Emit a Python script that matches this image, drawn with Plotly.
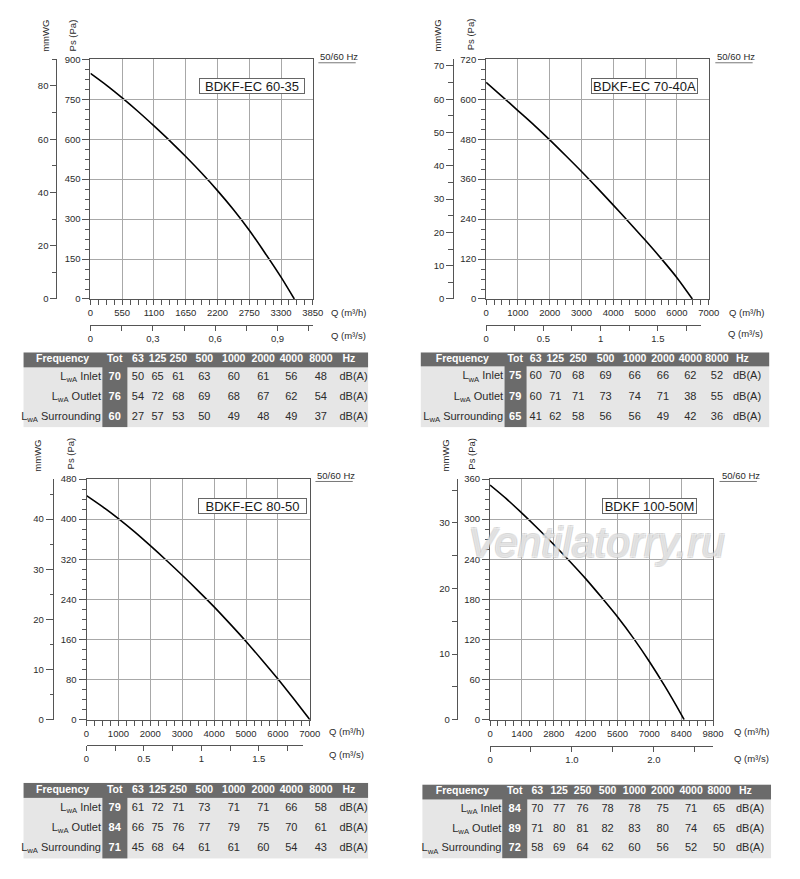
import plotly.graph_objects as go

W, H = 800, 879
FONT = "Liberation Sans, Arial, Helvetica, sans-serif"
TXT = "#2b2b2b"
GRID = "#a8a8a8"
FRAME = "#555555"
DARK = "#6b6b6b"
LIGHT = "#e6e6e6"

# ---------------- data ----------------
model_names = ["BDKF-EC 60-35", "BDKF-EC 70-40A", "BDKF-EC 80-50", "BDKF 100-50M"]

q_60_35 = [0, 275, 550, 825, 1100, 1375, 1650, 1925, 2200, 2475, 2750, 3025, 3300, 3530]
ps_60_35 = [847, 803, 755, 704, 650, 594, 535, 473, 407, 336, 258, 172, 82, 0]

q_70_40 = [0, 500, 1000, 1500, 2000, 2500, 3000, 3500, 4000, 4500, 5000, 5500, 6000, 6485]
ps_70_40 = [651, 609, 566, 523, 478, 431, 383, 333, 282, 230, 177, 122, 64, 0]

q_80_50 = [0, 500, 1000, 1500, 2000, 2500, 3000, 3500, 4000, 4500, 5000, 5500, 6000, 6500, 7000]
ps_80_50 = [447, 425, 401, 375, 347, 318, 288, 257, 225, 191, 156, 119, 81, 41, 0]

q_100_50 = [0, 700, 1400, 2100, 2800, 3500, 4200, 4900, 5600, 6300, 7000, 7700, 8400, 8530]
ps_100_50 = [351, 331, 309, 286, 262, 237, 211, 183, 154, 122, 87, 49, 8, 0]

freq_labels = ["63", "125", "250", "500", "1000", "2000", "4000", "8000"]
row_names = ["Inlet", "Outlet", "Surrounding"]

tot_60_35 = [70, 76, 60]
inlet_60_35 = [50, 65, 61, 63, 60, 61, 56, 48]
outlet_60_35 = [54, 72, 68, 69, 68, 67, 62, 54]
surr_60_35 = [27, 57, 53, 50, 49, 48, 49, 37]

tot_70_40 = [75, 79, 65]
inlet_70_40 = [60, 70, 68, 69, 66, 66, 62, 52]
outlet_70_40 = [60, 71, 71, 73, 74, 71, 38, 55]
surr_70_40 = [41, 62, 58, 56, 56, 49, 42, 36]

tot_80_50 = [79, 84, 71]
inlet_80_50 = [61, 72, 71, 73, 71, 71, 66, 58]
outlet_80_50 = [66, 75, 76, 77, 79, 75, 70, 61]
surr_80_50 = [45, 68, 64, 61, 61, 60, 54, 43]

tot_100_50 = [84, 89, 72]
inlet_100_50 = [70, 77, 76, 78, 78, 75, 71, 65]
outlet_100_50 = [71, 80, 81, 82, 83, 80, 74, 65]
surr_100_50 = [58, 69, 64, 62, 60, 56, 52, 50]

sec_vals_1 = [0, 0.3, 0.6, 0.9]
sec_text_1 = ["0", "0,3", "0,6", "0,9"]
sec_vals_2 = [0, 0.5, 1, 1.5]
sec_text_2 = ["0", "0.5", "1", "1.5"]
sec_vals_4 = [0, 1, 2]
sec_text_4 = ["0", "1.0", "2.0"]

# ---------------- geometry (pixels) ----------------
panels = [
    dict(q=q_60_35, ps=ps_60_35, name=model_names[0], tot=tot_60_35,
         bands=[inlet_60_35, outlet_60_35, surr_60_35], sv=sec_vals_1, st=sec_text_1, sminor=0.15,
         px=(89, 315.3), py=(54, 296.7), qmax=3850, qdt=550, psmax=900, psdt=150,
         mm_x=54.3, mm_conv=10, mm_dt=20, mm_minor=10, mm_len=6, mm_mlen=4,
         sec_y=322.7, sec_end=315.3,
         lab_mm=(43, 30), lab_ps=(71, 30), hz=(321, 51), qh=(332, 310), qs=(332, 334),
         box=(253, 81, 106), tx=(20.7, 371.7), ty=350.7, hh=15.3, rh=20.2,
         colw=[80, 26, 21.3, 18.7, 23.6, 29.2, 30.8, 29.2, 28, 32, 32.2]),
    dict(q=q_70_40, ps=ps_70_40, name=model_names[1], tot=tot_70_40,
         bands=[inlet_70_40, outlet_70_40, surr_70_40], sv=sec_vals_2, st=sec_text_2, sminor=0.25,
         px=(491.7, 718.3), py=(54, 296.7), qmax=7000, qdt=1000, psmax=720, psdt=120,
         mm_x=458.3, mm_conv=10, mm_dt=10, mm_minor=5, mm_len=7, mm_mlen=5,
         sec_y=322.7, sec_end=710,
         lab_mm=(442.7, 30), lab_ps=(476, 29), hz=(725, 51), qh=(736.7, 310), qs=(736, 332),
         box=(652.5, 81, 107), tx=(425, 780), ty=350.7, hh=14.5, rh=20.5,
         colw=[85, 22.7, 19, 20.8, 25.8, 30, 29.2, 28.3, 27.5, 26.7, 40]),
    dict(q=q_80_50, ps=ps_80_50, name=model_names[2], tot=tot_80_50,
         bands=[inlet_80_50, outlet_80_50, surr_80_50], sv=sec_vals_2, st=sec_text_2, sminor=0.25,
         px=(85, 312.3), py=(479, 722.7), qmax=7000, qdt=1000, psmax=480, psdt=80,
         mm_x=50.7, mm_conv=10, mm_dt=10, mm_minor=5, mm_len=7, mm_mlen=3,
         sec_y=748.3, sec_end=305,
         lab_mm=(35, 455), lab_ps=(68.3, 453), hz=(318, 475), qh=(330, 735), qs=(330, 758.3),
         box=(253.5, 506, 109), tx=(20.7, 371.7), ty=786.7, hh=15, rh=20.5,
         colw=[80, 26, 21.3, 18.7, 23.6, 29.2, 30.8, 29.2, 28, 32, 32.2]),
    dict(q=q_100_50, ps=ps_100_50, name=model_names[3], tot=tot_100_50,
         bands=[inlet_100_50, outlet_100_50, surr_100_50], sv=sec_vals_4, st=sec_text_4, sminor=0.5,
         px=(495.7, 722.7), py=(479, 722.7), qmax=9800, qdt=1400, psmax=360, psdt=60,
         mm_x=461.7, mm_conv=9.81, mm_dt=10, mm_minor=5, mm_len=5, mm_mlen=5,
         sec_y=749.3, sec_end=722.7,
         lab_mm=(450, 455), lab_ps=(476.7, 453), hz=(729.3, 475), qh=(741.7, 735), qs=(741.7, 761.7),
         box=(658.5, 506, 95), tx=(426.7, 781.7), ty=788.3, hh=15, rh=20,
         colw=[81.6, 25, 21.2, 23.2, 24.5, 26.3, 28.5, 29, 28.7, 28.3, 38.7]),
]


def fx(x):
    return x / W


def fy(y):
    return 1 - y / H


def aid(prefix, n):
    return prefix + ("" if n == 1 else str(n))


tickfont = dict(family=FONT, size=9.5, color=TXT)
fig = go.Figure()
annotations = []
shapes = []
layout = {}

for i, p in enumerate(panels):
    xm, xs, yp, ym = 2 * i + 1, 2 * i + 2, 2 * i + 1, 2 * i + 2
    xm_r, xs_r, yp_r, ym_r = aid("x", xm), aid("x", xs), aid("y", yp), aid("y", ym)

    fig.add_trace(go.Scatter(x=p["q"], y=p["ps"], mode="lines",
                             line=dict(color="black", width=1.6, shape="spline", smoothing=0.8),
                             xaxis=xm_r, yaxis=yp_r, hoverinfo="skip", showlegend=False))
    fig.add_trace(go.Scatter(x=[], y=[], xaxis=xm_r, yaxis=ym_r, hoverinfo="skip", showlegend=False))
    fig.add_trace(go.Scatter(x=[], y=[], xaxis=xs_r, yaxis=yp_r, hoverinfo="skip", showlegend=False))

    xdom = [fx(p["px"][0]), fx(p["px"][1])]
    ydom = [fy(p["py"][1]), fy(p["py"][0])]

    layout[aid("xaxis", xm)] = dict(
        domain=xdom, range=[0, p["qmax"]], anchor=yp_r, tick0=0, dtick=p["qdt"], tickformat="d",
        showgrid=True, gridcolor=GRID, gridwidth=1, zeroline=False,
        showline=True, linecolor=FRAME, linewidth=1, mirror=True,
        ticks="outside", ticklen=5, tickcolor=FRAME, tickwidth=1, tickfont=tickfont,
        minor=dict(tickmode="linear", tick0=0, dtick=p["qdt"] / 4, ticks="outside", ticklen=5,
                   tickcolor=FRAME, showgrid=False),
        fixedrange=True)
    layout[aid("xaxis", xs)] = dict(
        domain=[xdom[0], fx(p["sec_end"])], anchor="free", position=fy(p["sec_y"]),
        range=[0, p["qmax"] / 3600 * (p["sec_end"] - p["px"][0]) / (p["px"][1] - p["px"][0])],
        tickmode="array", tickvals=p["sv"], ticktext=p["st"],
        showgrid=False, zeroline=False, showline=True, linecolor=FRAME, linewidth=1,
        ticks="outside", ticklen=5, tickcolor=FRAME, tickfont=tickfont,
        minor=dict(tickmode="linear", tick0=0, dtick=p["sminor"], ticks="outside", ticklen=5,
                   tickcolor=FRAME, showgrid=False),
        fixedrange=True)
    layout[aid("yaxis", yp)] = dict(
        domain=ydom, range=[0, p["psmax"]], anchor=xm_r, tick0=0, dtick=p["psdt"],
        showgrid=True, gridcolor=GRID, gridwidth=1, zeroline=False,
        showline=True, linecolor=FRAME, linewidth=1, mirror=True,
        ticks="outside", ticklen=7, tickcolor=FRAME, tickfont=tickfont,
        minor=dict(tickmode="linear", tick0=0, dtick=p["psdt"] / 4, ticks="outside", ticklen=4,
                   tickcolor=FRAME, showgrid=False),
        fixedrange=True)
    layout[aid("yaxis", ym)] = dict(
        overlaying=yp_r, anchor="free", position=fx(p["mm_x"]), side="left",
        range=[0, p["psmax"] / p["mm_conv"]], tick0=0, dtick=p["mm_dt"],
        showgrid=False, zeroline=False, showline=True, linecolor=FRAME, linewidth=1,
        ticks="outside", ticklen=p["mm_len"], tickcolor=FRAME, tickfont=tickfont,
        minor=dict(tickmode="linear", tick0=0, dtick=p["mm_minor"], ticks="outside",
                   ticklen=p["mm_mlen"], tickcolor=FRAME),
        fixedrange=True)

    small = dict(family=FONT, size=9.5, color=TXT)
    annotations += [
        dict(text="mmWG", textangle=-90, x=fx(p["lab_mm"][0]), y=fy(p["lab_mm"][1]), xref="paper", yref="paper",
             xanchor="center", yanchor="middle", showarrow=False, font=small),
        dict(text="Ps (Pa)", textangle=-90, x=fx(p["lab_ps"][0]), y=fy(p["lab_ps"][1]), xref="paper", yref="paper",
             xanchor="center", yanchor="middle", showarrow=False, font=small),
        dict(text="50/60 Hz", x=fx(p["hz"][0]), y=fy(p["hz"][1]), xref="paper", yref="paper",
             xanchor="left", yanchor="middle", showarrow=False, font=small),
        dict(text="Q (m³/h)", x=fx(p["qh"][0]), y=fy(p["qh"][1]), xref="paper", yref="paper",
             xanchor="left", yanchor="middle", showarrow=False, font=small),
        dict(text="Q (m³/s)", x=fx(p["qs"][0]), y=fy(p["qs"][1]), xref="paper", yref="paper",
             xanchor="left", yanchor="middle", showarrow=False, font=small),
        dict(text=p["name"], x=fx(p["box"][0]), y=fy(p["box"][1]), xref="paper", yref="paper",
             xanchor="center", yanchor="middle", showarrow=False,
             font=dict(family=FONT, size=13, color="#1a1a1a"),
             bordercolor="#666666", borderwidth=1, borderpad=0, bgcolor="white",
             width=p["box"][2] - 2, height=14),
    ]
    shapes.append(dict(type="line", xref="paper", yref="paper",
                       x0=fx(p["hz"][0]), x1=fx(p["hz"][0] + 38), y0=fy(p["hz"][1] + 6.5), y1=fy(p["hz"][1] + 6.5),
                       line=dict(color="#777777", width=1)))

    # ---- sound table: heatmap cells + text on hidden axes ----
    tn = 9 + i
    tx_r, ty_r = aid("x", tn), aid("y", tn)
    colw = p["colw"]
    edges = [0]
    for w in colw:
        edges.append(edges[-1] + w)
    centers = [(edges[j] + edges[j + 1]) / 2 for j in range(len(colw))]
    hh, rh = p["hh"], p["rh"]
    yedges = [0, hh, hh + rh, hh + 2 * rh, hh + 3 * rh]
    ycent = [(yedges[j] + yedges[j + 1]) / 2 for j in range(4)]
    ncol = len(colw)
    zrows = [[1] * ncol] + [[0, 1] + [0] * (ncol - 2) for _ in range(3)]
    fig.add_trace(go.Heatmap(x=edges, y=yedges, z=zrows, xaxis=tx_r, yaxis=ty_r,
                             colorscale=[[0, LIGHT], [1, DARK]], zmin=0, zmax=1,
                             showscale=False, hoverinfo="skip"))

    tx, ty, tt, tp, tc, ts = [], [], [], [], [], []

    def put(x, y, t, pos, col, size):
        tx.append(x); ty.append(y); tt.append(t); tp.append(pos); tc.append(col); ts.append(size)

    header = ["Frequency", "Tot"] + freq_labels
    for j, h in enumerate(header):
        put(centers[j], ycent[0], "<b>%s</b>" % h, "middle center", "white", 10.5)
    put(edges[-2] + 6, ycent[0], "<b>Hz</b>", "middle right", "white", 10.5)
    for r in range(3):
        yc = ycent[r + 1]
        put(edges[1] - 1, yc, "L<sub>wA</sub> " + row_names[r], "middle left", TXT, 11)
        put(centers[1], yc, "<b>%d</b>" % p["tot"][r], "middle center", "white", 11)
        for j in range(len(freq_labels)):
            put(centers[2 + j], yc, str(p["bands"][r][j]), "middle center", TXT, 11)
        put(edges[-2] + 3, yc, "dB(A)", "middle right", TXT, 11)

    fig.add_trace(go.Scatter(x=tx, y=ty, text=tt, mode="text", textposition=tp,
                             textfont=dict(family=FONT, color=tc, size=ts),
                             xaxis=tx_r, yaxis=ty_r, hoverinfo="skip", showlegend=False, cliponaxis=False))
    total_h = yedges[-1]
    layout[aid("xaxis", tn)] = dict(domain=[fx(p["tx"][0]), fx(p["tx"][1])], range=[0, edges[-1]],
                                    anchor=ty_r, visible=False, fixedrange=True)
    layout[aid("yaxis", tn)] = dict(domain=[fy(p["ty"] + total_h), fy(p["ty"])], range=[total_h, 0],
                                    anchor=tx_r, visible=False, fixedrange=True)

annotations.append(dict(text="<i>Ventilatorry.ru</i>", x=fx(604), y=fy(543), xref="paper", yref="paper",
                        xanchor="center", yanchor="middle", showarrow=False,
                        font=dict(family=FONT, size=42, color="rgba(255,255,255,0.45)",
                                  shadow="-1px -1px 0 #c2c2c2, 1px -1px 0 #c2c2c2, -1px 1px 0 #c2c2c2, 1px 1px 0 #c2c2c2")))

fig.update_layout(width=W, height=H, autosize=False, margin=dict(l=0, r=0, t=0, b=0),
                  paper_bgcolor="white", plot_bgcolor="rgba(0,0,0,0)",
                  showlegend=False, font=dict(family=FONT, color=TXT),
                  annotations=annotations, shapes=shapes, **layout)

fig.write_html("out.html", config={"displayModeBar": False},
               post_script="document.body.style.margin='0px';")
